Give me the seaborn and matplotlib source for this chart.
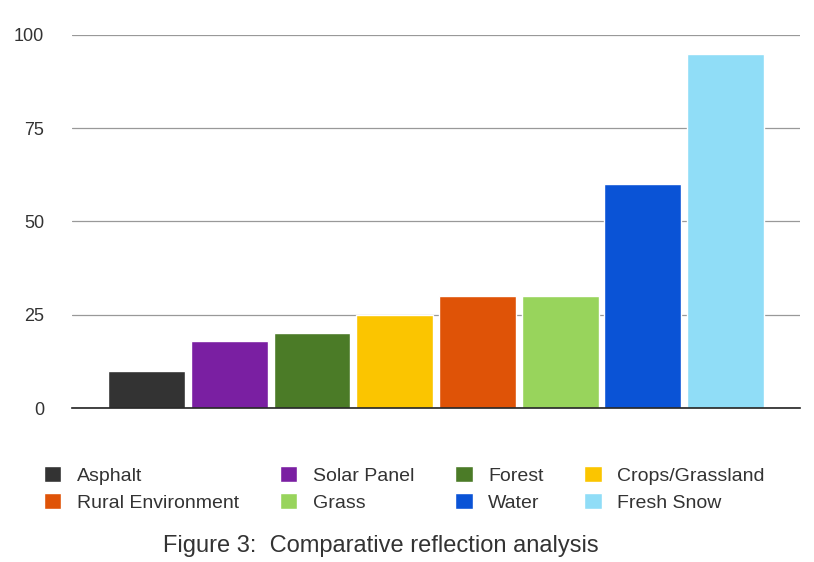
import matplotlib
matplotlib.use("Agg")
import matplotlib.pyplot as plt
from matplotlib.patches import Patch
import seaborn as sns

# Reflection values
surfaces = ["Asphalt", "Solar Panel", "Forest", "Crops/Grassland",
            "Rural Environment", "Grass", "Water", "Fresh Snow"]
reflection = [10, 18, 20, 25, 30, 30, 60, 95]
colors = ["#333333", "#7a1fa2", "#4b7b27", "#fbc500",
          "#df5307", "#98d45c", "#0a53d6", "#90ddf7"]
yticks = [0, 25, 50, 75, 100]

sns.set_style("white")
plt.rcParams["font.family"] = ["Liberation Sans", "DejaVu Sans"]

fig = plt.figure(figsize=(8.14, 5.62), dpi=100)
ax = fig.add_axes([0.0885, 0.274, 0.8945, 0.664])

sns.barplot(x=surfaces, y=reflection, hue=surfaces, palette=colors,
            width=0.93, legend=False, saturation=1, ax=ax, zorder=3)

ax.set_xlim(-0.9, 7.9)
ax.set_ylim(0, 100)
ax.set_yticks(yticks)
ax.set_yticklabels([str(t) for t in yticks], fontsize=13, color="#333333")
ax.set_xticks([])
ax.set_xlabel("")
ax.set_ylabel("")
ax.tick_params(axis="y", length=0, pad=20)
ax.yaxis.grid(True, color="#999999", linewidth=0.9, zorder=0)
for side in ["left", "right", "top"]:
    ax.spines[side].set_visible(False)
ax.spines["bottom"].set_color("#222222")
ax.spines["bottom"].set_linewidth(1.2)
ax.spines["bottom"].set_zorder(4)

# legend: row-major order in 4 columns, matplotlib fills columns first
order = [0, 4, 1, 5, 2, 6, 3, 7]
handles = [Patch(facecolor=colors[i], label=surfaces[i]) for i in order]
fig.legend(handles=handles, loc="center left", bbox_to_anchor=(0.037, 0.13),
           ncol=4, frameon=False, fontsize=14, handlelength=0.9,
           handleheight=0.9, handletextpad=0.8, columnspacing=2.1,
           labelspacing=0.4, labelcolor="#333333", borderpad=0.2)

fig.text(0.468, 0.028, "Figure 3:  Comparative reflection analysis",
         ha="center", va="center", fontsize=17, color="#333333")

fig.savefig("out.png", dpi=100)
